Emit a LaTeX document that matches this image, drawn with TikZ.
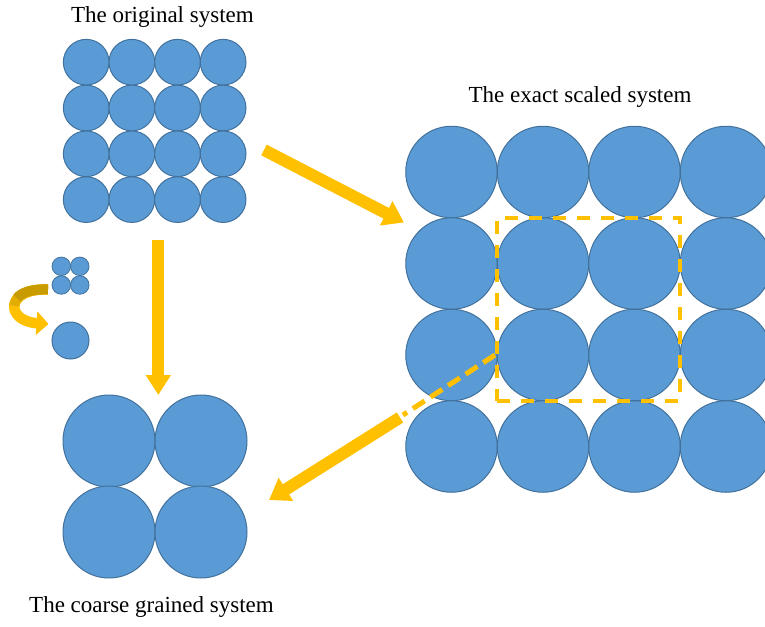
\documentclass[tikz,border=0pt]{standalone}
\usepackage{fontspec}
\setmainfont{Liberation Serif}
\usetikzlibrary{arrows.meta}
\definecolor{ballfill}{RGB}{91,155,213}
\definecolor{ballline}{RGB}{65,113,156}
\definecolor{gold}{RGB}{255,192,0}
\definecolor{darkgold}{RGB}{200,155,0}
\definecolor{midgold}{RGB}{228,174,0}
\begin{document}
\begin{tikzpicture}[x=1pt,y=-1pt,
  ball/.style={circle,draw=ballline,fill=ballfill,line width=1pt,inner sep=0pt},
  bigarrow/.style={draw=gold,line width=12pt,-{Triangle[width=26pt,length=20pt]}},
  titletext/.style={font=\fontsize{23}{27}\selectfont,anchor=base,inner sep=0pt}]
\useasboundingbox (0,0) rectangle (765,626);
% titles
\node[titletext] (t1) at (162.4,22.7) {The original system};
\node[titletext] (t2) at (580,102.7) {The exact scaled system};
\node[titletext] (t3) at (151.5,612.7) {The coarse grained system};
% original system
\foreach \i in {1,...,4}
  \foreach \j in {1,...,4}
    \node[ball,minimum size=45.7pt] (o\i\j) at ({86.2+45.65*(\j-1)},{62.2+45.8*(\i-1)}) {};
% exact scaled system
\foreach \i in {1,...,4}
  \foreach \j in {1,...,4}
    \node[ball,minimum size=91.5pt] (e\i\j) at ({451.5+91.5*(\j-1)},{172+91.5*(\i-1)}) {};
% coarse grained system
\foreach \i in {1,2}
  \foreach \j in {1,2}
    \node[ball,minimum size=92pt] (c\i\j) at ({109+92*(\j-1)},{441+91*(\i-1)}) {};
% small legend
\foreach \i in {1,2}
  \foreach \j in {1,2}
    \node[ball,minimum size=18.5pt,line width=0.8pt] (s\i\j) at ({61.3+18.5*(\j-1)},{266.3+18.7*(\i-1)}) {};
\node[ball,minimum size=37pt] (m) at (70.5,340.5) {};
% dashed selection
\node[draw=gold,line width=4pt,dash pattern=on 13pt off 11pt,inner sep=0pt,
      minimum width=183pt,minimum height=183pt] (sel) at (588.5,309.5) {};
% coordinates for arrows
\coordinate (a1s) at (264,150);
\coordinate (a1e) at (404,222.5);
\coordinate (a2s) at (158.3,240);
\coordinate (a2e) at (158.3,395);
\coordinate (dS) at (sel.west |- 0,355);
\coordinate (dE) at (403,415);
\coordinate (a3s) at (400,417.5);
\coordinate (a3e) at (269,500);
\coordinate (cs) at (48,289.5);
\coordinate (ce) at (48.5,324);
% arrows
\draw[bigarrow] (a1s) -- (a1e);
\draw[bigarrow,-{Triangle[width=24pt,length=20pt]}] (a2s) -- (a2e);
\draw[gold,line width=5pt,dash pattern=on 14pt off 7pt] (dS) -- (dE);
\draw[bigarrow] (a3s) -- (a3e);
% curved arrow
\draw[gold,line width=10.5pt,-{Triangle[width=23pt,length=12pt]}] (cs) .. controls (5,288) and (5,321) .. (ce);
\draw[midgold,line width=10pt] (cs) .. controls (25.5,288.75) and (14.25,297.1) .. (14.25,305.9);
\draw[darkgold,line width=10pt] (cs) .. controls (32,288.9) and (22,292) .. (17,298);
\end{tikzpicture}
\end{document}
